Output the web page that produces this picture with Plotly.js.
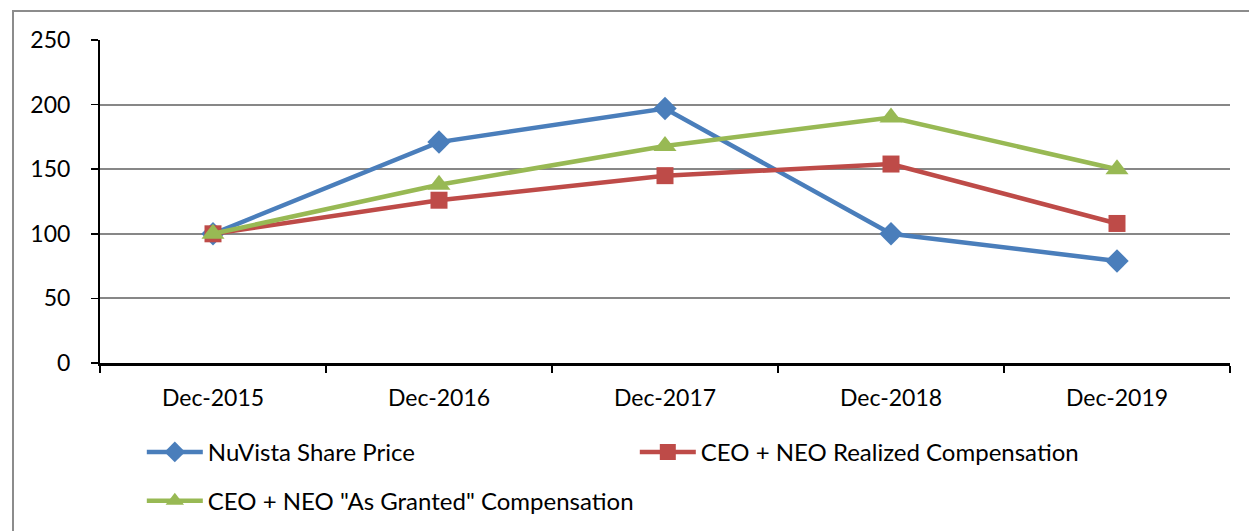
<!DOCTYPE html>
<html>
<head>
<meta charset="utf-8">
<script src="https://cdn.plot.ly/plotly-3.0.1.min.js"></script>
<style>
  html, body { margin: 0; padding: 0; background: #fff; overflow: hidden; }
  #frame { position: absolute; left: 12px; top: 10px; width: 1400px; height: 700px; border: 2px solid #8c8c8c; box-sizing: border-box; pointer-events: none; z-index: 5; }
  #chart { position: absolute; left: 0; top: 0; width: 1249px; height: 531px; }
</style>
</head>
<body>
<div id="chart"></div>
<div id="frame"></div>
<script>
const categories = ["Dec-2015", "Dec-2016", "Dec-2017", "Dec-2018", "Dec-2019"];
const sharePrice = [100, 171, 197, 100, 79];
const realizedComp = [100, 126, 145, 154, 108];
const grantedComp = [100, 138, 168, 190, 150];
const seriesNames = ["NuVista Share Price", "CEO + NEO Realized Compensation", "CEO + NEO \"As Granted\" Compensation"];
const yTicks = [0, 50, 100, 150, 200, 250];

const fontFam = "Lato, 'Open Sans', sans-serif";

const traces = [
  { x: categories, y: sharePrice, name: seriesNames[0], type: "scatter", mode: "lines+markers", legend: "legend",
    line: { color: "#4A7EBB", width: 4.5 }, marker: { symbol: "diamond", size: 18, color: "#4A7EBB" } },
  { x: categories, y: realizedComp, name: seriesNames[1], type: "scatter", mode: "lines+markers", legend: "legend",
    line: { color: "#BE4B48", width: 4.5 }, marker: { symbol: "square", size: 17, color: "#BE4B48" } },
  { x: categories, y: grantedComp, name: seriesNames[2], type: "scatter", mode: "lines+markers", legend: "legend2",
    line: { color: "#98B954", width: 4.5 }, marker: { symbol: "triangle-up", size: 20, color: "#98B954" } }
];

const legendFont = { family: fontFam, size: 24, color: "#000" };

const layout = {
  width: 1249, height: 531,
  margin: { l: 100, r: 19, t: 40, b: 168, autoexpand: false },
  paper_bgcolor: "#ffffff", plot_bgcolor: "#ffffff",
  font: { family: fontFam, size: 23, color: "#000" },
  showlegend: true,
  xaxis: {
    type: "category", tickson: "boundaries", ticks: "outside", ticklen: 7, tickwidth: 1.5, tickcolor: "#000",
    showline: true, linecolor: "#000", linewidth: 2.5, showgrid: false, zeroline: false,
    range: [-0.5, 4.5], ticklabelstandoff: 13,
    tickfont: { family: fontFam, size: 23, color: "#000" }
  },
  yaxis: {
    range: [0, 250], tickvals: yTicks, ticktext: yTicks.map(String),
    ticks: "outside", ticklen: 7, tickwidth: 1.5, tickcolor: "#000",
    showline: true, linecolor: "#000", linewidth: 2, showgrid: true, gridcolor: "#878787", gridwidth: 2,
    zeroline: false, ticklabelstandoff: 16,
    tickfont: { family: fontFam, size: 23, color: "#000" }
  },
  legend: {
    orientation: "h", x: 0.037, xanchor: "left", y: -0.207, yanchor: "top",
    entrywidth: 422, entrywidthmode: "pixels", itemwidth: 56,
    tracegroupgap: 0, font: legendFont, bgcolor: "rgba(0,0,0,0)"
  },
  legend2: {
    orientation: "h", x: 0.037, xanchor: "left", y: -0.358, yanchor: "top",
    itemwidth: 56, tracegroupgap: 0, font: legendFont, bgcolor: "rgba(0,0,0,0)"
  }
};

Plotly.newPlot("chart", traces, layout, { displayModeBar: false, staticPlot: true });
</script>
</body>
</html>
